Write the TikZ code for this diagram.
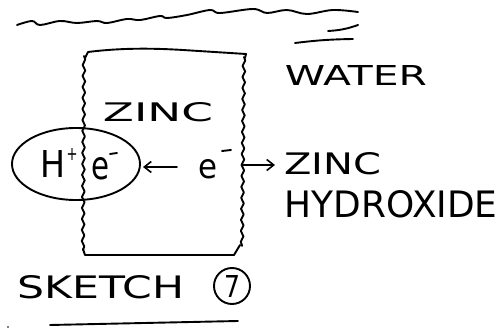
\documentclass[tikz,border=0pt]{standalone}
\usepackage{fontspec}
\usepackage{graphicx}
\setmainfont{DejaVu Sans}
\usetikzlibrary{decorations.pathmorphing,arrows.meta,shapes.geometric}
\newcommand{\hw}[3]{\resizebox{#1pt}{#2pt}{#3}}
\begin{document}
\begin{tikzpicture}[x=1pt,y=-1pt,
  pen/.style={line width=1.9pt,line cap=round,line join=round},
  wig/.style={pen,decorate,decoration={snake,segment length=11pt,amplitude=1.3pt}},
  lbl/.style={inner sep=0pt,outer sep=0pt},
  tip/.style={-{Straight Barb[length=7pt,width=11pt,line width=1.6pt]}}]
\useasboundingbox (0,0) rectangle (501,331);
% top water surface
\draw[pen] plot[smooth,tension=0.6] coordinates {(17,25) (32,21) (40,25) (60,21) (77,23) (97,21) (107,23) (127,19) (140,20) (160,16) (167,18) (187,15) (210,10) (220,13) (253,9) (267,13) (287,10) (307,14) (333,10) (358,12)};
\draw[pen] (328,31) to[bend right=8] (358,25);
\draw[pen] (295,43) to[bend left=3] (353,39);
% zinc block
\draw[pen] (85,58) -- (88,52) .. controls (120,48) and (150,48) .. (183,50) -- (246,54) -- (245,58);
\draw[wig] (84,56) -- (83,250);
\draw[wig] (244,57) -- (242,246);
\draw[pen] (83,249) -- (85,255) -- (234,255) -- (240,245);
% texts
\node[lbl] (zinc) at (158,112) {\hw{110}{19}{ZINC}};
\node[lbl] (water) at (356,76) {\hw{142}{20}{WATER}};
\node[pen,draw,ellipse,minimum width=128pt,minimum height=72pt,inner sep=0pt] (ell) at (76,164) {};
\node[lbl] (hh) at (53,164) {\hw{25}{27}{H}};
\node[lbl] (plus) at (72,155) {\hw{11}{12}{+}};
\node[lbl] (e1) at (101,169) {\hw{18}{22}{e}};
\draw[pen] (110,154) -- (117,153);
\node[lbl] (e2) at (207.5,169) {\hw{19}{19}{e}};
\draw[pen] (222,151) -- (231,150);
\node[lbl] (zinc2) at (333,164) {\hw{97}{22}{ZINC}};
\node[lbl] (hydr) at (391,204) {\hw{213}{27}{HYDROXIDE}};
\node[lbl] (sketch) at (101,287) {\hw{167}{23}{SKETCH}};
\node[pen,draw,circle,minimum size=36pt,inner sep=0pt] (seven) at (232,286) {\hw{16}{22}{7}};
% arrows
\coordinate (a1s) at (177,167);
\coordinate (a1e) at (143,167);
\draw[pen,tip] (a1s) -- (a1e);
\coordinate (a2s) at (242,165);
\coordinate (a2e) at (275,165);
\draw[pen,tip] (a2s) -- (a2e);
% bottom rule
\draw[pen] (50,325) -- (238,321);
\fill (8,327) circle (0.9pt);
\end{tikzpicture}
\end{document}
